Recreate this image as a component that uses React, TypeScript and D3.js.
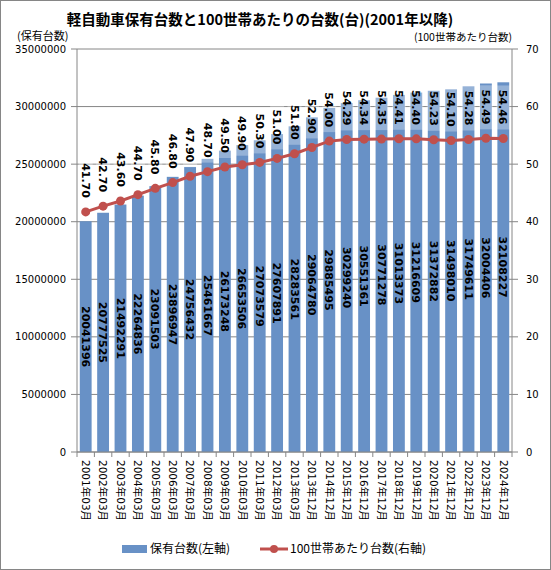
import React from 'react';
import * as d3 from 'd3';

const categories: string[] = [
  '2001年03月', '2002年03月', '2003年03月', '2004年03月', '2005年03月', '2006年03月',
  '2007年03月', '2008年03月', '2009年03月', '2010年03月', '2011年03月', '2012年03月',
  '2013年03月', '2013年12月', '2014年12月', '2015年12月', '2016年12月', '2017年12月',
  '2018年12月', '2019年12月', '2020年12月', '2021年12月', '2022年12月', '2023年12月',
  '2024年12月',
];

const holdings: number[] = [
  20041396, 20777525, 21492291, 22264836, 23091503, 23896947, 24756432, 25461667,
  26173248, 26653506, 27073579, 27607891, 28283561, 29064780, 29885495, 30299240,
  30551361, 30771278, 31013373, 31216609, 31372882, 31498010, 31749611, 32004406,
  32108227,
];

const per100: number[] = [
  41.7, 42.7, 43.6, 44.7, 45.8, 46.8, 47.9, 48.7, 49.5, 49.9, 50.3, 51.0, 51.8,
  52.9, 54.0, 54.29, 54.34, 54.35, 54.41, 54.4, 54.23, 54.1, 54.28, 54.49, 54.46,
];

const leftTicks: number[] = [0, 5000000, 10000000, 15000000, 20000000, 25000000, 30000000, 35000000];
const rightTicks: number[] = [0, 10, 20, 30, 40, 50, 60, 70];

const W = 551;
const H = 570;
const plot = { left: 77, right: 512, top: 49, bottom: 452 };

const BAR = '#6891c6';
const LINE = '#c0504d';
const NUM_FONT = 'DejaVu Sans, Verdana, sans-serif';
const JP_FONT = '"Noto Sans CJK JP", sans-serif';
const MIX_FONT = '"DejaVu Sans", "Noto Sans CJK JP", sans-serif';

export default function App() {
  const x = d3.scaleBand<string>()
    .domain(categories)
    .range([plot.left, plot.right])
    .paddingInner(0.32)
    .paddingOuter(0.16);
  const yL = d3.scaleLinear().domain([0, 35000000]).range([plot.bottom, plot.top]);
  const yR = d3.scaleLinear().domain([0, 70]).range([plot.bottom, plot.top]);
  const cx = (c: string) => (x(c) || 0) + x.bandwidth() / 2;

  const line = d3.line<number>()
    .x((_, i) => cx(categories[i]))
    .y(d => yR(d));

  const step = x.step();

  return (
    <svg width={W} height={H} style={{ position: 'absolute', left: 0, top: 0, background: '#fff' }}>
      <rect x={0.5} y={0.5} width={W - 1} height={H - 1} fill="#fff" stroke="#868686" />

      {/* title */}
      <text x={260} y={25} textAnchor="middle" fontFamily={JP_FONT} fontWeight="bold" fontSize={14.5} fill="#000">
        軽自動車保有台数と100世帯あたりの台数(台)(2001年以降)
      </text>
      <text x={17} y={40} fontFamily={JP_FONT} fontSize={11} fill="#000">(保有台数)</text>
      <text x={512} y={41} textAnchor="end" fontFamily={JP_FONT} fontSize={10.5} fill="#000">(100世帯あたり台数)</text>

      {/* grid */}
      {leftTicks.map(t => (
        <line key={t} x1={plot.left} x2={plot.right} y1={yL(t)} y2={yL(t)} stroke="#868686" strokeWidth={1} />
      ))}

      {/* bars */}
      {holdings.map((v, i) => (
        <rect key={i} x={x(categories[i])} y={yL(v)} width={x.bandwidth()} height={plot.bottom - yL(v)} fill={BAR} />
      ))}

      {/* axes */}
      <line x1={plot.left} x2={plot.left} y1={plot.top} y2={plot.bottom} stroke="#868686" />
      <line x1={plot.right} x2={plot.right} y1={plot.top} y2={plot.bottom} stroke="#868686" />
      <line x1={plot.left} x2={plot.right} y1={plot.bottom} y2={plot.bottom} stroke="#868686" />
      {leftTicks.map(t => (
        <g key={'l' + t}>
          <line x1={plot.left - 6} x2={plot.left} y1={yL(t)} y2={yL(t)} stroke="#868686" />
          <text x={plot.left - 11} y={yL(t)} dy="0.35em" textAnchor="end" fontFamily={NUM_FONT} fontSize={10} fill="#000">{t}</text>
        </g>
      ))}
      {rightTicks.map(t => (
        <g key={'r' + t}>
          <line x1={plot.right} x2={plot.right + 6} y1={yR(t)} y2={yR(t)} stroke="#868686" />
          <text x={plot.right + 14} y={yR(t)} dy="0.35em" fontFamily={NUM_FONT} fontSize={10} fill="#000">{t}</text>
        </g>
      ))}
      {d3.range(categories.length + 1).map(i => (
        <line key={'xt' + i} x1={plot.left + i * step} x2={plot.left + i * step} y1={plot.bottom} y2={plot.bottom + 5} stroke="#868686" />
      ))}
      {categories.map(c => (
        <text key={'xl' + c} transform={`translate(${cx(c)},${plot.bottom + 8}) rotate(90)`} dy="0.35em"
          fontFamily={MIX_FONT} fontSize={10.5} fill="#000">{c}</text>
      ))}

      {/* bar labels */}
      {holdings.map((v, i) => (
        <text key={'bl' + i} transform={`translate(${cx(categories[i])},${(yL(v) + plot.bottom) / 2}) rotate(90)`}
          dy="0.35em" textAnchor="middle" fontFamily={NUM_FONT} fontWeight="bold" fontSize={11} fill="#000">{v}</text>
      ))}

      {/* line label boxes */}
      {per100.map((v, i) => (
        <rect key={'lb' + i} x={cx(categories[i]) - 7} y={yR(v) - 53} width={14} height={44} fill="#fff" opacity={0.3} />
      ))}

      {/* line */}
      <path d={line(per100) || ''} fill="none" stroke={LINE} strokeWidth={3} />
      {per100.map((v, i) => (
        <circle key={'pt' + i} cx={cx(categories[i])} cy={yR(v)} r={4.5} fill={LINE} />
      ))}
      {per100.map((v, i) => (
        <text key={'ll' + i} transform={`translate(${cx(categories[i])},${yR(v) - 14}) rotate(90)`}
          dy="0.35em" textAnchor="end" fontFamily={NUM_FONT} fontWeight="bold" fontSize={11} fill="#000">{v.toFixed(2)}</text>
      ))}

      {/* legend */}
      <rect x={122} y={545} width={25} height={8} fill={BAR} />
      <text x={150} y={549} dy="0.35em" fontFamily={JP_FONT} fontSize={12} fill="#000">保有台数(左軸)</text>
      <line x1={260} x2={288} y1={549} y2={549} stroke={LINE} strokeWidth={3} />
      <circle cx={274} cy={549} r={4} fill={LINE} />
      <text x={290} y={549} dy="0.35em" fontFamily={JP_FONT} fontSize={12} fill="#000">100世帯あたり台数(右軸)</text>
    </svg>
  );
}
